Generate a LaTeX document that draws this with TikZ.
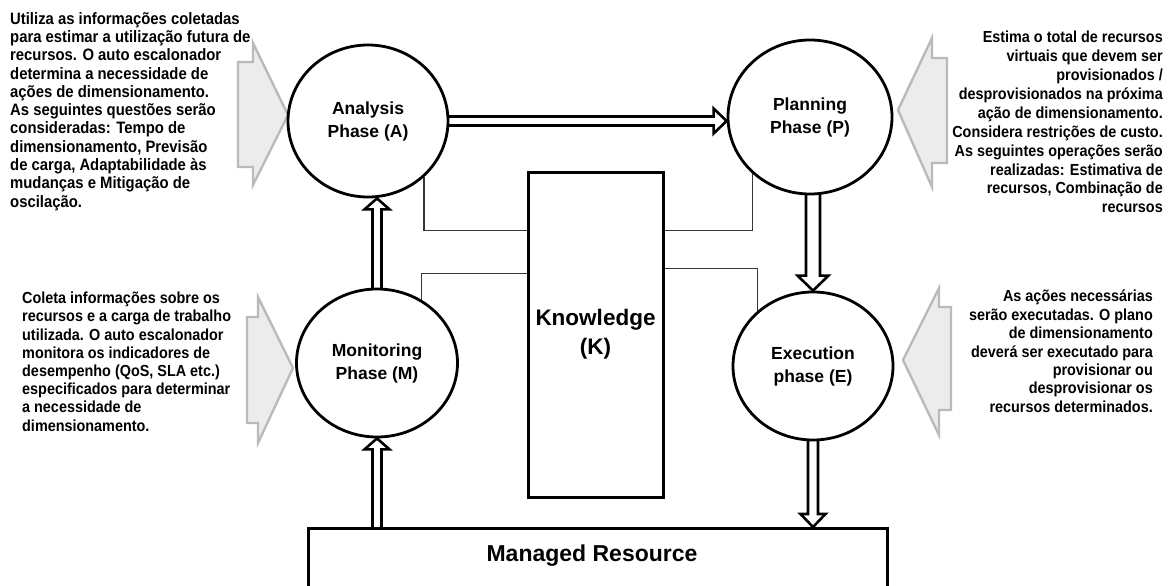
\documentclass[tikz,border=0pt]{standalone}
\usepackage{fontspec}
\setmainfont{Liberation Sans}
\newfontfamily\narrowsans{Liberation Sans}[FakeStretch=0.9]
\usetikzlibrary{shapes.geometric,calc}

\pgfdeclarelayer{back}
\pgfsetlayers{back,main}

\definecolor{hintfill}{RGB}{236,236,236}
\definecolor{hintline}{RGB}{186,186,186}
\definecolor{linkgray}{RGB}{55,55,55}

\tikzset{
  phase/.style={ellipse, draw, line width=2.8pt, fill=white, inner sep=0pt,
    align=center, font=\fontsize{17.5}{23}\selectfont\bfseries},
  block/.style={rectangle, draw, line width=3pt, fill=white, inner sep=0pt},
  note/.style={inner sep=0pt},
  hint/.style={draw=hintline, fill=hintfill, line width=2.4pt, line join=miter},
  flow/.style={draw=black, fill=white, line width=2.6pt, line join=miter},
  link/.style={draw=linkgray, line width=1.2pt},
}

\begin{document}
\begin{tikzpicture}[x=1pt,y=-1pt]
\useasboundingbox (0,0) rectangle (1176,586);
\clip (0,0) rectangle (1176,586);

% MAPE-K phases
\node[phase, minimum width=160pt, minimum height=152pt] (a) at (368,121) {Analysis\\Phase (A)};
\node[phase, minimum width=164pt, minimum height=154pt] (p) at (810,117) {Planning\\Phase (P)};
\node[phase, minimum width=161pt, minimum height=148pt] (m) at (377,363) {Monitoring\\Phase (M)};
\node[phase, minimum width=160pt, minimum height=148pt] (e) at (813,366) {Execution\\phase (E)};

% knowledge base and managed resource
\node[block, minimum width=135pt, minimum height=325pt, align=center,
  font=\fontsize{22.5}{29}\selectfont\bfseries] (k) at (595.5,334.5) {Knowledge\\(K)};
\node[block, minimum width=579pt, minimum height=90pt, anchor=north] (mr) at (597.5,527) {};
\node[font=\fontsize{23}{28}\selectfont\bfseries] (mrtext) at (592,556) {Managed Resource};

% end points of the hollow flow arrows
\coordinate (apS) at (a.east);
\coordinate (apT) at (p.west |- a.east);
\coordinate (maS) at (m.north);
\coordinate (maT) at (m.north |- a.south);
\coordinate (peS) at (e.north |- p.south);
\coordinate (peT) at (e.north);
\coordinate (erS) at (e.south);
\coordinate (erT) at (e.south |- mr.north);
\coordinate (rmS) at (m.south |- mr.north);
\coordinate (rmT) at (m.south);

\begin{pgfonlayer}{back}
  % side hint arrows
  \path[hint] (238,62) -- (253,62) -- (253,43) -- (288,115) -- (253,185) -- (253,167) -- (238,167) -- cycle;
  \path[hint] (247,317) -- (258,317) -- (258,297) -- (293,368) -- (258,443) -- (258,423) -- (247,423) -- cycle;
  \path[hint] (947,58) -- (932,58) -- (932,38) -- (898,110) -- (932,187) -- (932,163) -- (947,163) -- cycle;
  \path[hint] (951,307) -- (939,307) -- (939,288) -- (903,360) -- (939,435) -- (939,410) -- (951,410) -- cycle;

  % Analysis -> Planning
  \path[flow] ($(apS)+(-4,-4.5)$) -- ($(apT)+(-13,-4.5)$) -- ($(apT)+(-13,-12.5)$) -- (apT)
    -- ($(apT)+(-13,12.5)$) -- ($(apT)+(-13,4.5)$) -- ($(apS)+(-4,4.5)$) -- cycle;
  % Monitoring -> Analysis
  \path[flow] ($(maS)+(-4.5,3)$) -- ($(maT)+(-4.5,11)$) -- ($(maT)+(-12.5,11)$) -- (maT)
    -- ($(maT)+(12.5,11)$) -- ($(maT)+(4.5,11)$) -- ($(maS)+(4.5,3)$) -- cycle;
  % Planning -> Execution
  \path[flow] ($(peS)+(-7,-3)$) -- ($(peT)+(-7,-15)$) -- ($(peT)+(-15.5,-15)$) -- (peT)
    -- ($(peT)+(15.5,-15)$) -- ($(peT)+(7,-15)$) -- ($(peS)+(7,-3)$) -- cycle;
  % Execution -> Managed Resource
  \path[flow] ($(erS)+(-5,-3)$) -- ($(erT)+(-5,-13)$) -- ($(erT)+(-12.5,-13)$) -- (erT)
    -- ($(erT)+(12.5,-13)$) -- ($(erT)+(5,-13)$) -- ($(erS)+(5,-3)$) -- cycle;
  % Managed Resource -> Monitoring
  \path[flow] ($(rmS)+(-4.5,3)$) -- ($(rmT)+(-4.5,11)$) -- ($(rmT)+(-12.5,11)$) -- (rmT)
    -- ($(rmT)+(12.5,11)$) -- ($(rmT)+(4.5,11)$) -- ($(rmS)+(4.5,3)$) -- cycle;

  % links to the knowledge base
  \draw[link] (a.-45) |- ($(k.north west)+(0,60)$);
  \draw[link] (m.55) |- ($(k.north west)+(0,103)$);
  \draw[link] (p.-135) |- ($(k.north east)+(0,60)$);
  \draw[link] (e.135) |- ($(k.north east)+(0,98)$);
\end{pgfonlayer}

% descriptions
\node[note, align=left, anchor=north west, font=\narrowsans\bfseries\fontsize{16.5}{18.3}\selectfont] (tA) at (10,12)
  {Utiliza as informações coletadas\\para estimar a utilização futura de\\recursos. O auto escalonador\\determina a necessidade de\\ações de dimensionamento.\\As seguintes questões serão\\consideradas: Tempo de\\dimensionamento, Previsão\\de carga, Adaptabilidade às\\mudanças e Mitigação de\\oscilação.};
\node[note, align=left, anchor=north west, font=\narrowsans\bfseries\fontsize{16}{18.2}\selectfont] (tM) at (22,292)
  {Coleta informações sobre os\\recursos e a carga de trabalho\\utilizada. O auto escalonador\\monitora os indicadores de\\desempenho (QoS, SLA etc.)\\especificados para determinar\\a necessidade de\\dimensionamento.};
\node[note, align=right, anchor=north east, font=\narrowsans\bfseries\fontsize{16}{18.9}\selectfont] (tP) at (1163,31)
  {Estima o total de recursos\\virtuais que devem ser\\provisionados /\\desprovisionados na próxima\\ação de dimensionamento.\\Considera restrições de custo.\\As seguintes operações serão\\realizadas: Estimativa de\\recursos, Combinação de\\recursos};
\node[note, align=right, anchor=north east, font=\narrowsans\bfseries\fontsize{16}{18.4}\selectfont] (tE) at (1153,290)
  {As ações necessárias\\serão executadas. O plano\\de dimensionamento\\deverá ser executado para\\provisionar ou\\desprovisionar os\\recursos determinados.};
\end{tikzpicture}
\end{document}
